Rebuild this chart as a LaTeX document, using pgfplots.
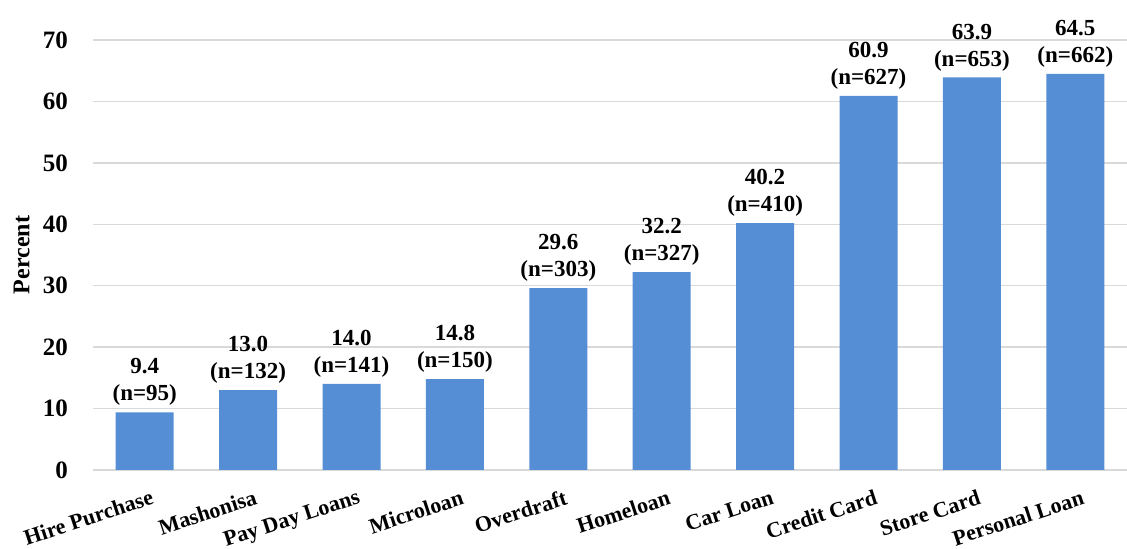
\documentclass[border=0pt]{standalone}
\usepackage{pgfplots}
\pgfplotsset{compat=1.18}
\usepackage{pgfplotstable}
\usepackage{fontspec}
\setmainfont{Liberation Serif}
\definecolor{barblue}{RGB}{85,142,213}
\definecolor{gridgray}{RGB}{217,217,217}

% loan type, share of respondents (percent), number of respondents
\pgfplotstableread{
x pct n
0 9.4 95
1 13.0 132
2 14.0 141
3 14.8 150
4 29.6 303
5 32.2 327
6 40.2 410
7 60.9 627
8 63.9 653
9 64.5 662
}\loandata

\begin{document}
\begin{tikzpicture}[x=0.5pt,y=0.5pt]
\path[use as bounding box] (-93,-79) rectangle (1034,470);
\begin{axis}[
  at={(0,0)}, anchor=south west,
  scale only axis,
  width=517pt, height=215pt,
  xmin=-0.5, xmax=9.5,
  ymin=0, ymax=70,
  ytick={0,10,...,70},
  xtick=data,
  xticklabels={Hire Purchase,Mashonisa,Pay Day Loans,Microloan,Overdraft,Homeloan,Car Loan,Credit Card,Store Card,Personal Loan},
  axis x line*=bottom,
  axis y line*=left,
  x axis line style={draw=gridgray, line width=0.8pt},
  y axis line style={draw=none},
  ymajorgrids,
  grid style={draw=gridgray, line width=0.7pt},
  major tick length=0pt,
  tick style={draw=none},
  /pgf/number format/assume math mode=true,
  yticklabel style={font=\bfseries\fontsize{12.5}{14}\selectfont, xshift=-9pt},
  xticklabel style={font=\bfseries\fontsize{11}{12}\selectfont, rotate=18, anchor=north east, yshift=-6.5pt, xshift=3pt},
  ylabel={Percent},
  ylabel style={font=\bfseries\fontsize{12}{14}\selectfont, at={(axis description cs:-0.069,0.5)}, rotate=0, anchor=center},
  clip=false,
]
\addplot[ybar, bar width=29pt, fill=barblue, draw=none,
  point meta=explicit symbolic,
  visualization depends on={y \as \yval},
  nodes near coords={\pgfmathprintnumber[fixed,fixed zerofill,precision=1]{\yval}\\(n=\pgfplotspointmeta)},
  every node near coord/.append style={align=center, font=\bfseries\fontsize{11.5}{13.5}\selectfont, inner sep=3pt, anchor=south},
] table[x=x, y=pct, meta=n] {\loandata};
\end{axis}
\end{tikzpicture}
\end{document}
